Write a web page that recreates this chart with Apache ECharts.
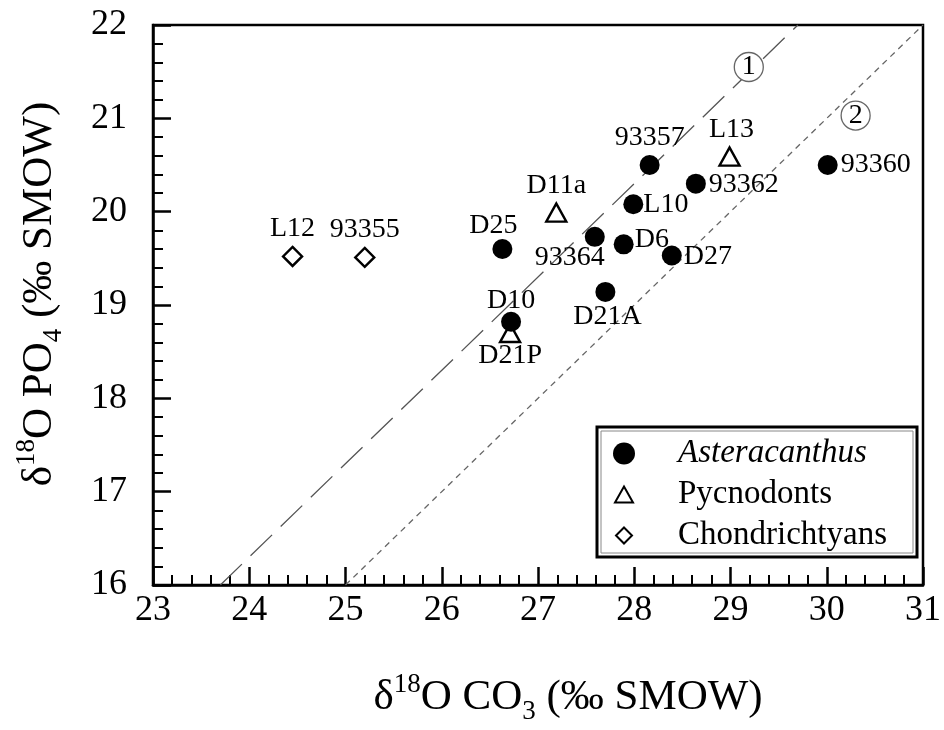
<!DOCTYPE html>
<html>
<head>
<meta charset="utf-8">
<script src="https://cdn.jsdelivr.net/npm/echarts@6/dist/echarts.min.js"></script>
<style>
  html, body { margin: 0; padding: 0; background: #fff; }
  #chart { width: 944px; height: 730px; }
</style>
</head>
<body>
<div id="chart"></div>
<script>
const FONT = '"Liberation Serif", "DejaVu Serif", serif';

// Asteracanthus
const asterNames = ['93357', '93362', '93360', 'L10', 'D25', '93364', 'D6', 'D27', 'D21A', 'D10'];
const asterCO3 = [28.16, 28.64, 30.01, 27.99, 26.63, 27.59, 27.89, 28.39, 27.70, 26.72];
const asterPO4 = [20.50, 20.30, 20.50, 20.08, 19.60, 19.73, 19.65, 19.53, 19.14, 18.82];

// Pycnodonts
const pycnoNames = ['L13', 'D11a', 'D21P'];
const pycnoCO3 = [28.99, 27.19, 26.71];
const pycnoPO4 = [20.59, 19.99, 18.70];

// Chondrichtyans
const chondNames = ['L12', '93355'];
const chondCO3 = [24.45, 25.20];
const chondPO4 = [19.52, 19.51];

// reference lines 1 and 2 (end points)
const line1CO3 = [23.7, 29.7];
const line1PO4 = [16, 22];
const line2CO3 = [25.0, 31.0];
const line2PO4 = [16, 22];

// circled line numbers
const tagNames = ['1', '2'];
const tagCO3 = [29.19, 30.30];
const tagPO4 = [21.55, 21.03];

// label placement per point (style only)
const labelPos = {
  '93357': ['top', [0, 0]],
  '93362': ['right', [0, 1]],
  '93360': ['right', [0, 0]],
  'L10': ['right', [-3, 0]],
  'D25': ['top', [-9, 4]],
  '93364': ['bottom', [-25, -6]],
  'D6': ['right', [-2, -5]],
  'D27': ['right', [-1, 1]],
  'D21A': ['bottom', [2, -2]],
  'D10': ['top', [0, 6]],
  'D21P': ['bottom', [0, -4]],
  'L13': ['top', [2, 0]],
  'D11a': ['top', [0, 0]],
  'L12': ['top', [0, 0]],
  '93355': ['top', [0, 0]]
};

const pts = (names, xs, ys) => names.map((n, i) => {
  const p = labelPos[n];
  return {
    name: n,
    value: [xs[i], ys[i]],
    label: { position: p[0], offset: p[1] }
  };
});

const pointLabel = {
  show: true,
  formatter: '{b}',
  color: '#000',
  fontFamily: FONT,
  fontSize: 28,
  distance: 3
};

const titleRich = {
  a: { fontFamily: FONT, fontSize: 43, color: '#000', lineHeight: 54, verticalAlign: 'middle' },
  s: { fontFamily: FONT, fontSize: 27, color: '#000', lineHeight: 54, verticalAlign: 'top', padding: [0, 0, 14, 0] },
  b: { fontFamily: FONT, fontSize: 27, color: '#000', lineHeight: 54, verticalAlign: 'bottom', padding: [14, 0, 0, 0] }
};

const chart = echarts.init(document.getElementById('chart'));

const option = {
  animation: false,
  grid: {
    left: 153, right: 12, top: 25, bottom: 143,
    show: true, borderColor: '#000', borderWidth: 2.5
  },
  legend: {
    orient: 'vertical',
    left: 607,
    top: 432,
    itemWidth: 22,
    itemHeight: 22,
    itemGap: 8,
    data: [
      { name: 'Asteracanthus', icon: 'circle' },
      { name: 'Pycnodonts', icon: 'path://M0,0M22,22M2,19L20,19L11,3Z' },
      { name: 'Chondrichtyans', icon: 'path://M0,0M22,22M11,3L19,11L11,19L3,11Z' }
    ],
    formatter: (name) => name === 'Asteracanthus' ? '{i|' + name + '}' : name,
    textStyle: {
      fontFamily: FONT,
      fontSize: 33,
      color: '#000',
      padding: [0, 0, 0, 38],
      rich: {
        i: { fontFamily: FONT, fontSize: 33, fontStyle: 'italic', color: '#000' }
      }
    }
  },
  graphic: [
    {
      type: 'rect',
      shape: { x: 597, y: 427, width: 320, height: 130 },
      style: { fill: 'none', stroke: '#000', lineWidth: 3 },
      z: 100
    },
    {
      type: 'rect',
      shape: { x: 601, y: 431, width: 312, height: 122 },
      style: { fill: 'none', stroke: '#888', lineWidth: 1 },
      z: 100
    }
  ],
  xAxis: {
    type: 'value',
    min: 23,
    max: 31,
    interval: 1,
    name: '{a|δ}{s|18}{a|O CO}{b|3}{a| (‰ SMOW)}',
    nameLocation: 'middle',
    nameGap: 86,
    nameTextStyle: { rich: titleRich, padding: [0, 0, 0, 60] },
    axisLine: { lineStyle: { color: '#000', width: 2.5 } },
    axisTick: { inside: true, length: 18, lineStyle: { color: '#000', width: 2.5 } },
    minorTick: { show: true, splitNumber: 5, length: 10, lineStyle: { color: '#000', width: 2 } },
    splitLine: { show: false },
    axisLabel: { color: '#000', fontFamily: FONT, fontSize: 36, margin: 8 }
  },
  yAxis: {
    type: 'value',
    min: 16,
    max: 22,
    interval: 1,
    name: '{a|δ}{s|18}{a|O PO}{b|4}{a| (‰ SMOW)}',
    nameLocation: 'middle',
    nameGap: 86,
    nameTextStyle: { rich: titleRich, padding: [0, 0, 0, 22] },
    axisLine: { lineStyle: { color: '#000', width: 2.5 } },
    axisTick: { inside: true, length: 18, lineStyle: { color: '#000', width: 2.5 } },
    minorTick: { show: true, splitNumber: 5, length: 10, lineStyle: { color: '#000', width: 2 } },
    splitLine: { show: false },
    axisLabel: { color: '#000', fontFamily: FONT, fontSize: 36, margin: 26 }
  },
  series: [
    {
      name: 'line1',
      type: 'line',
      data: line1CO3.map((x, i) => [x, line1PO4[i]]),
      showSymbol: false,
      symbol: 'none',
      lineStyle: { color: '#555', width: 1.3, type: [30, 12] },
      z: 1,
      silent: true
    },
    {
      name: 'line2',
      type: 'line',
      data: line2CO3.map((x, i) => [x, line2PO4[i]]),
      showSymbol: false,
      symbol: 'none',
      lineStyle: { color: '#666', width: 1.3, type: [6, 5] },
      z: 1,
      silent: true
    },
    {
      name: 'tags',
      type: 'scatter',
      data: tagNames.map((n, i) => ({ name: n, value: [tagCO3[i], tagPO4[i]] })),
      symbol: 'circle',
      symbolSize: 29,
      itemStyle: { color: '#fff', borderColor: '#666', borderWidth: 1.3, opacity: 1 },
      label: { show: true, position: 'inside', formatter: '{b}', color: '#000', fontFamily: FONT, fontSize: 28 },
      z: 3
    },
    {
      name: 'Asteracanthus',
      type: 'scatter',
      data: pts(asterNames, asterCO3, asterPO4),
      symbol: 'circle',
      symbolSize: 20,
      itemStyle: { color: '#000', opacity: 1 },
      label: pointLabel,
      z: 5
    },
    {
      name: 'Pycnodonts',
      type: 'scatter',
      data: pts(pycnoNames, pycnoCO3, pycnoPO4),
      symbol: 'triangle',
      symbolSize: [20, 18],
      itemStyle: { color: '#fff', borderColor: '#000', borderWidth: 2.4, opacity: 1 },
      label: pointLabel,
      z: 4
    },
    {
      name: 'Chondrichtyans',
      type: 'scatter',
      data: pts(chondNames, chondCO3, chondPO4),
      symbol: 'diamond',
      symbolSize: [19, 19],
      itemStyle: { color: '#fff', borderColor: '#000', borderWidth: 2.4, opacity: 1 },
      label: pointLabel,
      z: 4
    }
  ]
};

chart.setOption(option);
</script>
</body>
</html>
